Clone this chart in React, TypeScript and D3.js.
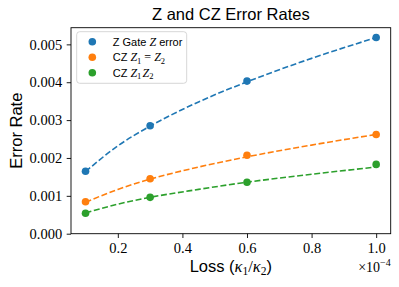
import { useEffect, useRef } from "react";
import * as d3 from "d3";

// measured points
const loss = [0.1, 0.3, 0.6, 1.0];
const zGate = [0.00165, 0.00285, 0.00403, 0.00518];
const czEqual = [0.000845, 0.00145, 0.00207, 0.00262];
const czProduct = [0.00054, 0.00096, 0.00136, 0.00183];

// dashed fit curves
const fitLoss = [0.1, 0.2, 0.3, 0.45, 0.6, 0.8, 1.0];
const zGateFit = [0.00164, 0.00232, 0.00284, 0.00348, 0.00401, 0.00463, 0.00518];
const czEqualFit = [0.00083, 0.00117, 0.00144, 0.00176, 0.00203, 0.00234, 0.00262];
const czProductFit = [0.00055, 0.00078, 0.00096, 0.00117, 0.00136, 0.00157, 0.00176];

const xTicks = [0.2, 0.4, 0.6, 0.8, 1.0];
const yTicks = [0, 0.001, 0.002, 0.003, 0.004, 0.005];

const colors = ["#1f77b4", "#ff7f0e", "#2ca02c"];

const SANS = "'Liberation Sans', Arial, sans-serif";
const SERIF = "'Liberation Serif', serif";

export default function App() {
  const ref = useRef<SVGSVGElement>(null);

  const width = 399;
  const height = 287;
  const margin = { top: 27.7, right: 8.3, bottom: 53.3, left: 71 };
  const innerW = width - margin.left - margin.right;
  const innerH = height - margin.top - margin.bottom;

  useEffect(() => {
    const svg = d3.select(ref.current);
    svg.selectAll("*").remove();

    const x = d3.scaleLinear().domain([0.055, 1.045]).range([0, innerW]);
    const y = d3.scaleLinear().domain([0, 0.00544]).range([innerH, 0]);

    const g = svg
      .append("g")
      .attr("transform", `translate(${margin.left},${margin.top})`);

    const series = [
      { pts: zGate, fit: zGateFit },
      { pts: czEqual, fit: czEqualFit },
      { pts: czProduct, fit: czProductFit },
    ];

    const line = d3
      .line<number>()
      .x((_, i) => x(fitLoss[i]))
      .y((d) => y(d))
      .curve(d3.curveMonotoneX);

    series.forEach((s, k) => {
      g.append("path")
        .attr("d", line(s.fit))
        .attr("fill", "none")
        .attr("stroke", colors[k])
        .attr("stroke-width", 1.6)
        .attr("stroke-dasharray", "6,2.6");
      g.selectAll(null)
        .data(s.pts)
        .enter()
        .append("circle")
        .attr("cx", (_, i) => x(loss[i]))
        .attr("cy", (d) => y(d))
        .attr("r", 3.8)
        .attr("fill", colors[k]);
    });

    // axes
    const xAxis = g
      .append("g")
      .attr("transform", `translate(0,${innerH})`)
      .call(
        d3.axisBottom(x).tickValues(xTicks).tickFormat(d3.format(".1f")).tickSize(4.3).tickPadding(5)
      );
    const yAxis = g
      .append("g")
      .call(
        d3.axisLeft(y).tickValues(yTicks).tickFormat(d3.format(".3f")).tickSize(4.3).tickPadding(4.5)
      );
    [xAxis, yAxis].forEach((a) => {
      a.select(".domain").remove();
      a.selectAll("line").attr("stroke", "#000").attr("stroke-width", 0.9);
      a.selectAll("text")
        .attr("fill", "#000")
        .style("font-family", SERIF)
        .style("font-size", "14.5px");
    });

    // frame
    g.append("rect")
      .attr("width", innerW)
      .attr("height", innerH)
      .attr("fill", "none")
      .attr("stroke", "#000")
      .attr("stroke-width", 0.9);

    // offset text
    const off = g
      .append("text")
      .attr("x", innerW)
      .attr("y", innerH + 38.5)
      .attr("text-anchor", "end")
      .style("font-family", SERIF)
      .style("font-size", "14px");
    off.append("tspan").text("×10");
    off.append("tspan").attr("dy", -6).style("font-size", "10px").text("−4");

    // title
    svg
      .append("text")
      .attr("x", margin.left + innerW / 2)
      .attr("y", 20)
      .attr("text-anchor", "middle")
      .style("font-family", SANS)
      .style("font-size", "16.5px")
      .text("Z and CZ Error Rates");

    // axis labels
    const xl = svg
      .append("text")
      .attr("x", margin.left + innerW / 2)
      .attr("y", 271.7)
      .attr("text-anchor", "middle")
      .style("font-family", SANS)
      .style("font-size", "16.5px");
    xl.append("tspan").text("Loss (");
    const math = (t: d3.Selection<SVGTSpanElement, unknown, null, undefined>) =>
      t.style("font-family", SERIF).style("font-style", "italic");
    math(xl.append("tspan").text("κ"));
    xl.append("tspan").attr("dy", 3.5).style("font-size", "11.5px").style("font-family", SERIF).text("1");
    xl.append("tspan").attr("dy", -3.5).style("font-family", SERIF).text("/");
    math(xl.append("tspan").text("κ"));
    xl.append("tspan").attr("dy", 3.5).style("font-size", "11.5px").style("font-family", SERIF).text("2");
    xl.append("tspan").attr("dy", -3.5).text(")");

    svg
      .append("text")
      .attr("transform", `translate(21.5,${margin.top + innerH / 2}) rotate(-90)`)
      .attr("text-anchor", "middle")
      .style("font-family", SANS)
      .style("font-size", "16.5px")
      .text("Error Rate");

    // legend
    const lg = g.append("g").attr("transform", "translate(5.7,4)");
    lg.append("rect")
      .attr("width", 110)
      .attr("height", 51.6)
      .attr("rx", 3)
      .attr("fill", "#fff")
      .attr("fill-opacity", 0.8)
      .attr("stroke", "#ccc")
      .attr("stroke-width", 0.8);
    const legendRows = ["error", "eq", "prod"];
    legendRows.forEach((kind, i) => {
      const ry = 10 + i * 15.5;
      lg.append("circle").attr("cx", 15.6).attr("cy", ry).attr("r", 3.8).attr("fill", colors[i]);
      const t = lg
        .append("text")
        .attr("x", 36)
        .attr("y", ry + 4)
        .style("font-family", SANS)
        .style("font-size", "11px");
      t.append("tspan").text(kind === "error" ? "Z Gate " : "CZ ");
      math(t.append("tspan").style("font-size", "12px").text("Z"));
      if (kind === "error") {
        t.append("tspan").text(" error");
      } else {
        t.append("tspan").attr("dy", 2.5).style("font-size", "8.5px").style("font-family", SERIF).text("1");
        if (kind === "eq") {
          t.append("tspan").attr("dy", -2.5).style("font-family", SERIF).style("font-size", "12px").text(" = ");
        } else {
          t.append("tspan").attr("dy", -2.5).style("font-size", "4px").text(" ");
        }
        math(t.append("tspan").style("font-size", "12px").text("Z"));
        t.append("tspan").attr("dy", 2.5).style("font-size", "8.5px").style("font-family", SERIF).text("2");
      }
    });
  }, []);

  return (
    <svg
      ref={ref}
      width={width}
      height={height}
      style={{ position: "absolute", left: 0, top: 0, background: "#fff" }}
    />
  );
}
